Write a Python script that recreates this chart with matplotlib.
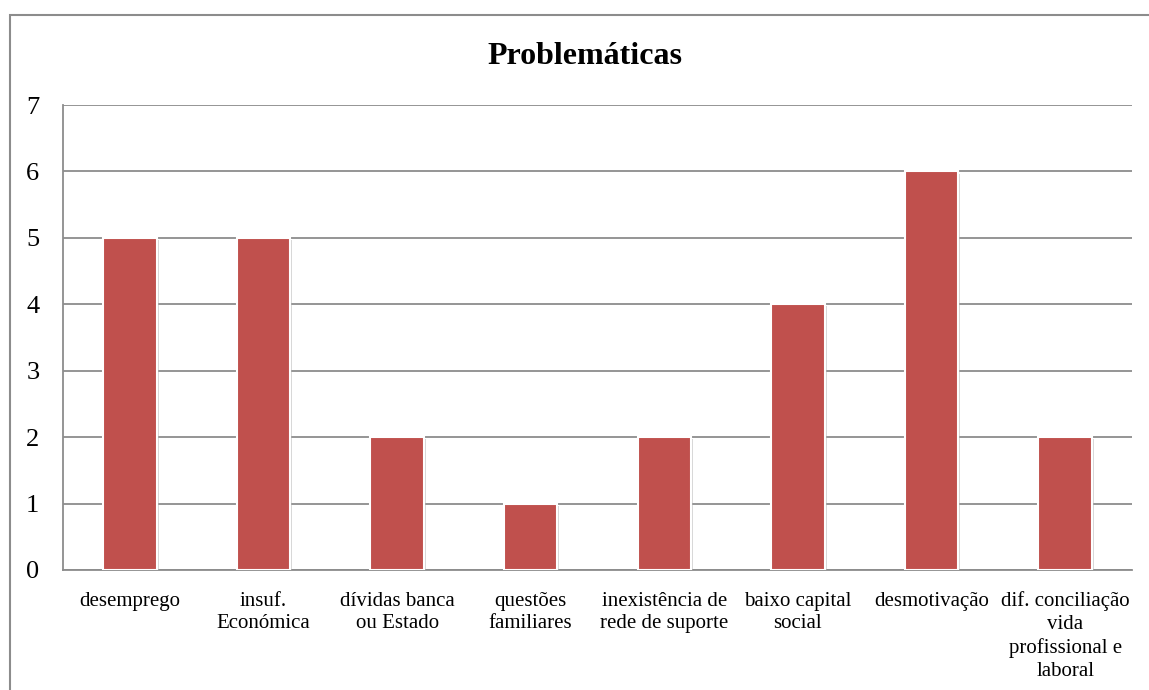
import matplotlib.pyplot as plt
import matplotlib.patheffects as pe
from matplotlib.patches import Rectangle

plt.rcParams['font.family'] = ['Liberation Serif', 'DejaVu Serif']

# categorias e frequências
categorias = ["desemprego", "insuf.\nEconómica", "dívidas banca\nou Estado",
              "questões\nfamiliares", "inexistência de\nrede de suporte",
              "baixo capital\nsocial", "desmotivação",
              "dif. conciliação\nvida\nprofissional e\nlaboral"]
valores = [5, 5, 2, 1, 2, 4, 6, 2]

W, H = 1149, 690
fig = plt.figure(figsize=(W / 100, H / 100), dpi=100)
ax = fig.add_axes([63 / W, 1 - 570 / H, (1132 - 63) / W, (570 - 105) / H])

x = range(len(categorias))
barras = ax.bar(x, valores, width=0.4, color="#C0504D", edgecolor="white",
                linewidth=1.5, zorder=3)
for b in barras:
    b.set_path_effects([pe.SimplePatchShadow(offset=(1.5, -1.5), shadow_rgbFace="#b0b0b0", alpha=0.5),
                        pe.Normal()])

ax.set_xlim(-0.5, len(categorias) - 0.5)
ax.set_ylim(0, 7)
ax.set_yticks(range(0, 8))
ax.set_xticks(list(x))
ax.set_xticklabels(categorias, fontsize=15, linespacing=1.28)
ax.tick_params(axis='y', labelsize=19, length=0, pad=17)
ax.tick_params(axis='x', length=0, pad=15.5)
ax.yaxis.grid(True, color="#8c8c8c", linewidth=1.3, zorder=0)
for lado in ["top", "right"]:
    ax.spines[lado].set_visible(False)
for lado in ["left", "bottom"]:
    ax.spines[lado].set_color("#8c8c8c")
    ax.spines[lado].set_linewidth(1.3)

fig.text(585 / W, 1 - 57 / H, "Problemáticas", ha="center", va="center",
         fontsize=23, fontweight="bold")

# moldura do gráfico
fig.patches.append(Rectangle((9.5 / W, -0.1), 1.2, 1.1 - 15 / H, transform=fig.transFigure,
                             fill=False, edgecolor="#8c8c8c", linewidth=1.5))

fig.savefig("out.png", dpi=100)
